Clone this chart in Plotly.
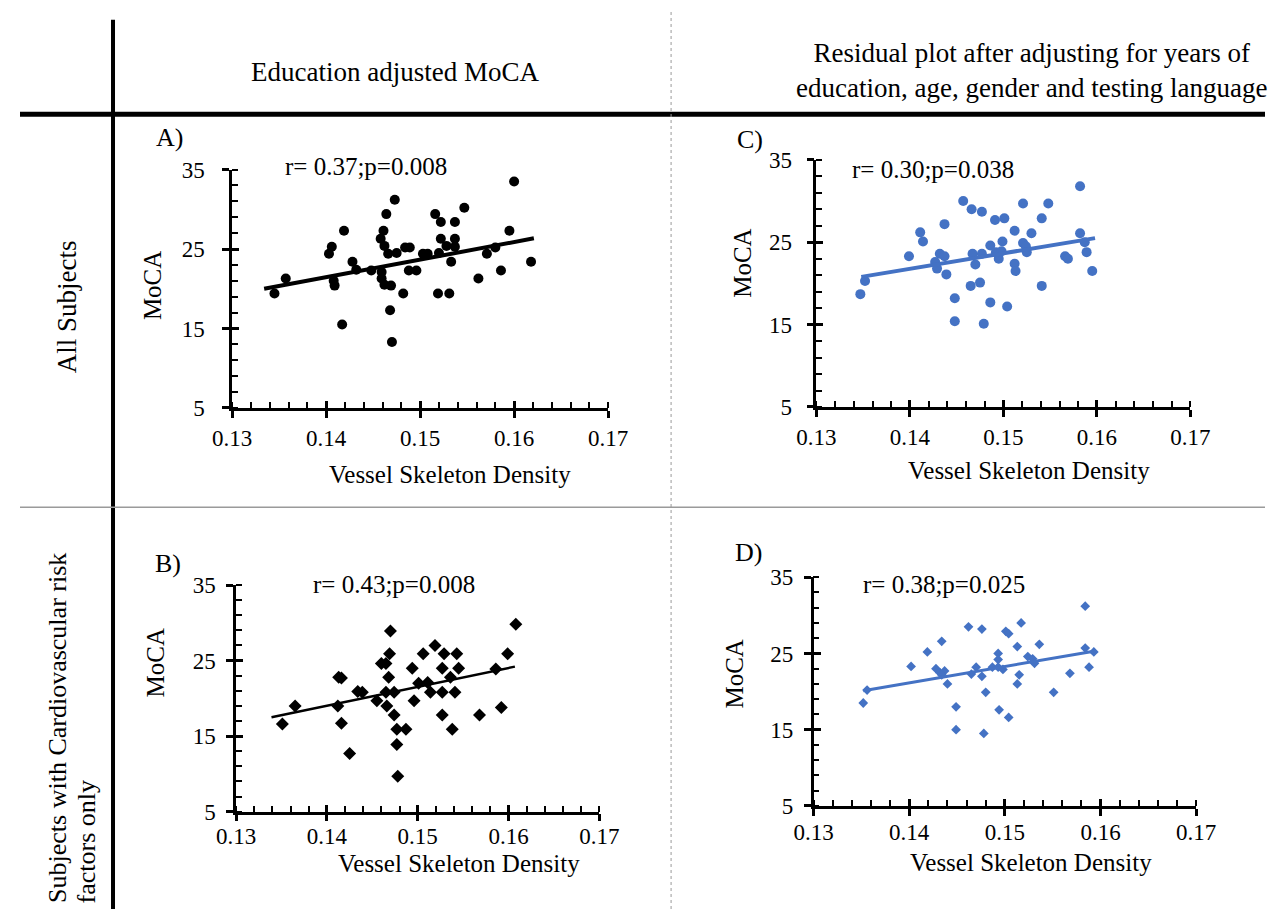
import plotly.graph_objects as go

W, H = 1285, 922
FONT = "Liberation Serif"
BLUE = "#4472C4"

# ---------------- data ----------------
x_ticks = [0.13, 0.14, 0.15, 0.16, 0.17]
x_tick_labels = ["0.13", "0.14", "0.15", "0.16", "0.17"]
y_ticks = [5, 15, 25, 35]
y_tick_labels = ["5", "15", "25", "35"]

# Panel A: all subjects, education adjusted MoCA
a_x = [0.1345, 0.1357, 0.1403, 0.1406, 0.1408, 0.1409, 0.1419, 0.1417, 0.1428, 0.1432,
       0.1448, 0.1458, 0.1461, 0.1464, 0.1473, 0.1462, 0.1466, 0.1475, 0.1459, 0.1459,
       0.1462, 0.1469, 0.1468, 0.1470, 0.1482, 0.1484, 0.1489, 0.1488, 0.1496, 0.1503,
       0.1508, 0.1516, 0.1522, 0.1522, 0.1520, 0.1519, 0.1531, 0.1528, 0.1537, 0.1537,
       0.1537, 0.1533, 0.1547, 0.1562, 0.1571, 0.1580, 0.1586, 0.1595, 0.1600, 0.1618]
a_y = [19.4, 21.3, 24.4, 25.3, 21.0, 20.4, 27.3, 15.5, 23.4, 22.4,
       22.3, 26.3, 27.3, 29.4, 31.2, 25.4, 24.4, 24.5, 22.1, 21.3,
       20.5, 20.4, 17.3, 13.3, 19.4, 25.2, 25.2, 22.3, 22.3, 24.4,
       24.4, 29.4, 28.4, 26.3, 24.5, 19.4, 19.4, 25.4, 28.4, 26.3,
       25.3, 23.4, 30.2, 21.3, 24.4, 25.2, 22.3, 27.3, 33.5, 23.4]
a_trend_x = [0.1334, 0.1621]
a_trend_y = [20.0, 26.35]

# Panel B: CV risk factors only, education adjusted MoCA
b_x = [0.1351, 0.1365, 0.1413, 0.1416, 0.1412, 0.1416, 0.1425, 0.1434, 0.1439, 0.1455,
       0.1460, 0.1465, 0.1469, 0.1470, 0.1468, 0.1465, 0.1474, 0.1466, 0.1474, 0.1477,
       0.1477, 0.1478, 0.1487, 0.1494, 0.1496, 0.1501, 0.1506, 0.1511, 0.1514, 0.1519,
       0.1527, 0.1527, 0.1527, 0.1529, 0.1536, 0.1541, 0.1543, 0.1545, 0.1538, 0.1568,
       0.1586, 0.1592, 0.1599, 0.1608]
b_y = [16.6, 19.0, 22.8, 22.7, 19.0, 16.7, 12.7, 20.9, 20.8, 19.7,
       24.6, 24.6, 25.9, 28.9, 22.8, 20.8, 20.8, 19.0, 17.8, 15.9,
       13.9, 9.7, 15.9, 24.0, 19.7, 22.0, 25.9, 22.1, 20.8, 27.0,
       24.0, 20.8, 17.8, 25.9, 22.8, 20.8, 25.9, 24.0, 15.9, 17.8,
       23.9, 18.8, 25.9, 29.8]
b_trend_x = [0.1339, 0.1607]
b_trend_y = [17.5, 24.2]

# Panel C: all subjects, residual plot
c_x = [0.1347, 0.1352, 0.1399, 0.1411, 0.1414, 0.1437, 0.1432, 0.1437, 0.1427, 0.1429,
       0.1439, 0.1448, 0.1448, 0.1457, 0.1466, 0.1477, 0.1467, 0.1470, 0.1477, 0.1465,
       0.1475, 0.1486, 0.1479, 0.1491, 0.1501, 0.1486, 0.1492, 0.1495, 0.1498, 0.1499,
       0.1504, 0.1512, 0.1512, 0.1513, 0.1521, 0.1521, 0.1524, 0.1525, 0.1530, 0.1541,
       0.1548, 0.1541, 0.1566, 0.1569, 0.1582, 0.1582, 0.1587, 0.1589, 0.1595]
c_y = [18.7, 20.3, 23.3, 26.2, 25.1, 27.2, 23.6, 23.3, 22.6, 21.8,
       21.1, 18.2, 15.4, 30.0, 29.0, 28.7, 23.6, 22.3, 23.6, 19.7,
       20.1, 17.7, 15.1, 27.7, 27.9, 24.6, 23.8, 23.0, 23.9, 25.1,
       17.2, 26.4, 22.4, 21.5, 29.7, 24.9, 24.5, 23.8, 26.1, 27.9,
       29.7, 19.7, 23.3, 23.0, 31.8, 26.1, 25.0, 23.8, 21.5]
c_trend_x = [0.1348, 0.1598]
c_trend_y = [20.8, 25.5]

# Panel D: CV risk factors only, residual plot
d_x = [0.1352, 0.1356, 0.1402, 0.1419, 0.1434, 0.1428, 0.1432, 0.1437, 0.1434, 0.1440,
       0.1449, 0.1449, 0.1462, 0.1476, 0.1465, 0.1470, 0.1476, 0.1480, 0.1478, 0.1487,
       0.1493, 0.1493, 0.1493, 0.1498, 0.1494, 0.1501, 0.1504, 0.1504, 0.1513, 0.1515,
       0.1513, 0.1517, 0.1524, 0.1529, 0.1531, 0.1536, 0.1551, 0.1568, 0.1584, 0.1584,
       0.1588, 0.1593]
d_y = [18.5, 20.2, 23.3, 25.2, 26.6, 23.0, 22.5, 22.7, 22.2, 21.0,
       18.0, 15.0, 28.5, 28.2, 22.3, 23.2, 22.0, 19.9, 14.5, 23.2,
       25.0, 24.2, 23.2, 22.9, 17.6, 27.9, 27.6, 16.6, 25.9, 22.2,
       21.0, 29.0, 24.6, 24.3, 23.7, 26.2, 19.9, 22.4, 31.2, 25.7,
       23.2, 25.2]
d_trend_x = [0.1352, 0.1593]
d_trend_y = [20.1, 25.3]

stats = ["r= 0.37;p=0.008", "r= 0.43;p=0.008", "r= 0.30;p=0.038", "r= 0.38;p=0.025"]
panel_letters = ["A)", "B)", "C)", "D)"]

# ---------------- layout helpers ----------------
def px(x):
    return x / W

def py(y):
    return 1 - y / H

# plot-area boxes in pixels: (left, right, top, bottom)
boxes = {
    1: (219, 607, 162, 407),   # A
    2: (223, 598, 589, 822),   # B
    3: (822, 1208, 152, 406),  # C
    4: (819, 1214, 581, 816),  # D
}
# tick label standoffs (x, y) per panel
standoffs = {1: (1, 13), 2: (-5, 6), 3: (1, 10), 4: (-3, 6)}

fig = go.Figure()

panels = [
    (1, a_x, a_y, a_trend_x, a_trend_y, "circle", 10, "black", 4),
    (2, b_x, b_y, b_trend_x, b_trend_y, "diamond", 10, "black", 2.5),
    (3, c_x, c_y, c_trend_x, c_trend_y, "circle", 10, BLUE, 4),
    (4, d_x, d_y, d_trend_x, d_trend_y, "diamond", 7.5, BLUE, 3),
]

for n, xs, ys, tx, ty, sym, size, col, lw in panels:
    xa = "x" if n == 1 else f"x{n}"
    ya = "y" if n == 1 else f"y{n}"
    fig.add_trace(go.Scatter(x=xs, y=ys, mode="markers", xaxis=xa, yaxis=ya,
                             marker=dict(symbol=sym, size=size, color=col, line=dict(width=0)),
                             showlegend=False, hoverinfo="x+y"))
    fig.add_trace(go.Scatter(x=tx, y=ty, mode="lines", xaxis=xa, yaxis=ya,
                             line=dict(color=col, width=lw),
                             showlegend=False, hoverinfo="skip"))
    # empty trace for the overlay (inner tick) axes
    fig.add_trace(go.Scatter(x=[], y=[], xaxis=f"x{n+4}", yaxis=f"y{n+4}",
                             showlegend=False, hoverinfo="skip"))

tick_font = dict(family=FONT, size=23, color="black")

fig.update_layout(
    width=W, height=H, autosize=False,
    margin=dict(l=0, r=0, t=0, b=0),
    paper_bgcolor="white", plot_bgcolor="rgba(0,0,0,0)",
    showlegend=False,
)

for n, (l, r, t, b) in boxes.items():
    xkey = "xaxis" if n == 1 else f"xaxis{n}"
    ykey = "yaxis" if n == 1 else f"yaxis{n}"
    xid = "x" if n == 1 else f"x{n}"
    yid = "y" if n == 1 else f"y{n}"
    xdom = [px(l), px(r)]
    ydom = [py(b), py(t)]
    sx, sy = standoffs[n]
    xax = dict(
        domain=xdom, anchor=yid, range=[0.13, 0.17],
        tickmode="array", tickvals=x_ticks, ticktext=x_tick_labels,
        showline=True, linecolor="black", linewidth=2.5,
        ticks="outside", ticklen=7, tickwidth=2.5, tickcolor="black",
        minor=dict(ticks="inside", ticklen=6, tickwidth=2, tickcolor="black",
                   tick0=0.13, dtick=0.002, showgrid=False),
        showgrid=False, zeroline=False, tickfont=tick_font,
        ticklabelstandoff=sx, fixedrange=True,
    )
    yax = dict(
        domain=ydom, anchor=xid, range=[5, 35],
        tickmode="array", tickvals=y_ticks, ticktext=y_tick_labels,
        showline=True, linecolor="black", linewidth=2.5,
        ticks="outside", ticklen=7, tickwidth=2.5, tickcolor="black",
        minor=dict(ticks="inside", ticklen=6, tickwidth=2, tickcolor="black",
                   tick0=5, dtick=2, showgrid=False),
        showgrid=False, zeroline=False, tickfont=tick_font,
        ticklabelstandoff=sy, fixedrange=True,
    )
    try:
        fig.update_layout({xkey: xax})
    except ValueError:
        xax["ticklabelstandoff"] = 0
        fig.update_layout({xkey: xax})
    fig.update_layout({ykey: yax})
    # overlay axes that draw the inner half of the major (cross) ticks
    fig.update_layout({
        f"xaxis{n+4}": dict(
            domain=xdom, anchor=f"y{n+4}", overlaying=xid, range=[0.13, 0.17],
            tickmode="array", tickvals=x_ticks, showticklabels=False,
            ticks="inside", ticklen=7, tickwidth=2.5, tickcolor="black",
            showline=False, showgrid=False, zeroline=False, fixedrange=True,
        ),
        f"yaxis{n+4}": dict(
            domain=ydom, anchor=f"x{n+4}", overlaying=yid, range=[5, 35],
            tickmode="array", tickvals=y_ticks, showticklabels=False,
            ticks="inside", ticklen=7, tickwidth=2.5, tickcolor="black",
            showline=False, showgrid=False, zeroline=False, fixedrange=True,
        ),
    })

# ---------------- table frame lines ----------------
shapes = [
    dict(type="line", xref="paper", yref="paper", x0=px(96), x1=px(96), y0=py(8), y1=py(922),
         line=dict(color="black", width=4)),
    dict(type="line", xref="paper", yref="paper", x0=px(0), x1=px(1285), y0=py(105), y1=py(105),
         line=dict(color="black", width=5)),
    dict(type="line", xref="paper", yref="paper", x0=px(0), x1=px(1285), y0=py(509), y1=py(509),
         line=dict(color="#9a9a9a", width=1.5)),
    dict(type="line", xref="paper", yref="paper", x0=px(672), x1=px(672), y0=py(0), y1=py(922),
         line=dict(color="#9a9a9a", width=1, dash="dot")),
]
fig.update_layout(shapes=shapes)

# ---------------- text ----------------
def txt(text, x, y, size, xanchor="center", yanchor="middle", angle=0, align="center"):
    return dict(text=text, x=px(x), y=py(y), xref="paper", yref="paper",
                xanchor=xanchor, yanchor=yanchor, showarrow=False, textangle=angle,
                align=align, font=dict(family=FONT, size=size, color="black"))

ann = [
    txt("Education adjusted MoCA", 387, 62, 27),
    txt("Residual plot after adjusting for years of<br>education, age, gender and testing language",
        1044, 60, 27),
    txt("All Subjects", 48, 303, 27, angle=-90),
    txt("Subjects with Cardiovascular risk", 38, 918, 26, angle=-90, yanchor="bottom"),
    txt("factors only", 69, 918, 26, angle=-90, yanchor="bottom"),
    # panel letters
    txt(panel_letters[0], 138, 129, 26, xanchor="left"),
    txt(panel_letters[1], 137, 567, 26, xanchor="left"),
    txt(panel_letters[2], 738, 131, 26, xanchor="left"),
    txt(panel_letters[3], 736, 556, 26, xanchor="left"),
    # statistics
    txt(stats[0], 271, 159, 25, xanchor="left"),
    txt(stats[1], 300, 588, 25, xanchor="left"),
    txt(stats[2], 857, 162, 25, xanchor="left"),
    txt(stats[3], 868, 588, 25, xanchor="left"),
    # axis titles
    txt("Vessel Skeleton Density", 444, 475, 25),
    txt("Vessel Skeleton Density", 1041, 471, 25),
    txt("Vessel Skeleton Density", 453, 875, 25),
    txt("Vessel Skeleton Density", 1043, 874, 25),
    txt("MoCA", 137, 281, 25, angle=-90),
    txt("MoCA", 745, 258, 25, angle=-90),
    txt("MoCA", 140, 669, 25, angle=-90),
    txt("MoCA", 738, 681, 25, angle=-90),
]
fig.update_layout(annotations=ann)

fig.write_html(
    "out.html",
    config={"displayModeBar": False},
    post_script="document.body.style.margin='0';document.body.style.overflow='hidden';",
)
